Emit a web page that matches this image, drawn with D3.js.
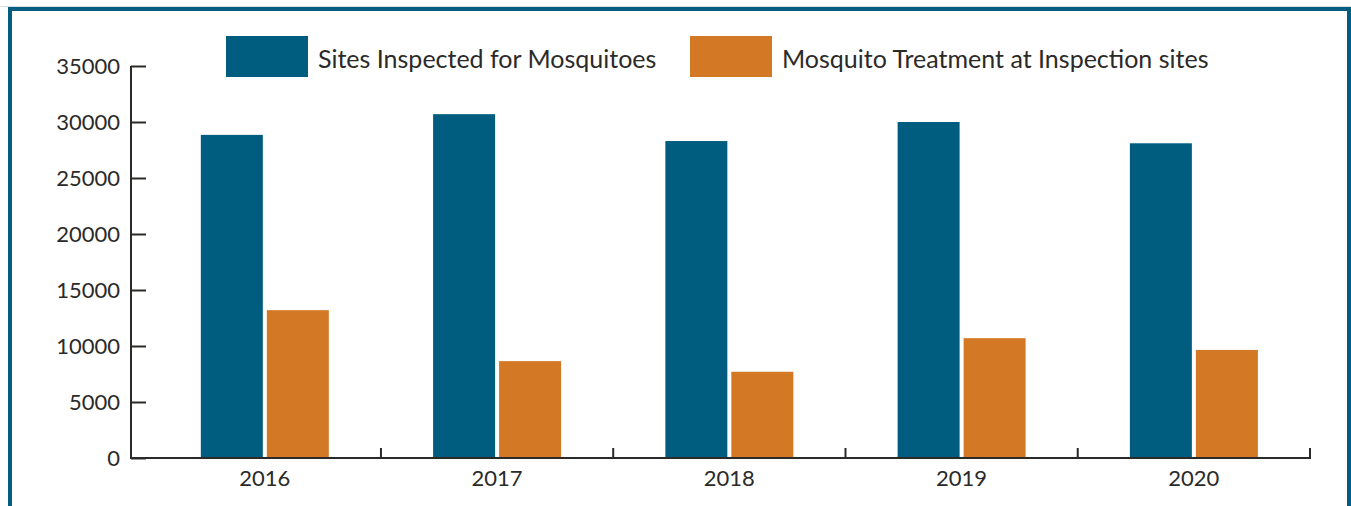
<!DOCTYPE html>
<html>
<head>
<meta charset="utf-8">
<script src="https://cdn.jsdelivr.net/npm/d3@7"></script>
<style>
  html, body { margin: 0; padding: 0; background: #fff; }
  svg { display: block; }
  text { font-family: "Lato", "Open Sans", sans-serif; fill: #2b2a29; }
</style>
</head>
<body>
<svg id="chart" width="1351" height="506"></svg>
<script>
// Yearly mosquito program counts
const years = ["2016", "2017", "2018", "2019", "2020"];
const seriesNames = ["Sites Inspected for Mosquitoes", "Mosquito Treatment at Inspection sites"];
const sitesInspected = [28850, 30700, 28300, 30000, 28100];
const treatments = [13200, 8650, 7700, 10700, 9650];
const yTicks = [0, 5000, 10000, 15000, 20000, 25000, 30000, 35000];
const seriesColors = ["#015d80", "#d37926"];

const svg = d3.select("#chart");
const W = 1351, H = 506;

// Outer frame: thin grey hairline above a thick blue border open at the bottom
svg.append("line").attr("x1", 0).attr("x2", W).attr("y1", 6.5).attr("y2", 6.5)
  .attr("stroke", "#d7dde0").attr("stroke-width", 1);
svg.append("path")
  .attr("d", `M10,${H} L10,9 L1349,9 L1349,${H}`)
  .attr("fill", "none").attr("stroke", "#035d80").attr("stroke-width", 4);

const axisLeft = 131, plotTop = 66, plotBottom = 458;
const bandLeft = 148.7, bandRight = 1310;

const y = d3.scaleLinear().domain([0, 35000]).range([plotBottom, plotTop]);
const x = d3.scaleBand().domain(years).range([bandLeft, bandRight]).paddingInner(0).paddingOuter(0);
const barW = 62, barGap = 4;

const data = years.map((yr, i) => ({ year: yr, values: [sitesInspected[i], treatments[i]] }));

// Bars
const groups = svg.append("g").selectAll("g").data(data).join("g")
  .attr("transform", d => `translate(${x(d.year) + x.bandwidth() / 2},0)`);
groups.selectAll("rect").data(d => d.values).join("rect")
  .attr("x", (v, j) => j === 0 ? -(barW + barGap / 2) : barGap / 2)
  .attr("width", barW)
  .attr("y", v => y(v))
  .attr("height", v => plotBottom - y(v))
  .attr("fill", (v, j) => seriesColors[j]);

// Y axis with ticks pointing into the plot
const yAxis = d3.axisRight(y).tickValues(yTicks).tickSize(15).tickFormat(d3.format("d"));
const gy = svg.append("g").attr("transform", `translate(${axisLeft},0)`).call(yAxis);
gy.select(".domain").remove();
gy.selectAll(".tick line").attr("stroke", "#2b2a29").attr("stroke-width", 2);
gy.selectAll(".tick text")
  .attr("x", -11).attr("dy", "0.34em")
  .attr("text-anchor", "end")
  .style("font-size", "22px").style("fill", "#2b2a29").style("font-family", "Lato, 'Open Sans', sans-serif");
svg.append("line").attr("x1", axisLeft).attr("x2", axisLeft)
  .attr("y1", plotTop).attr("y2", plotBottom + 1)
  .attr("stroke", "#2b2a29").attr("stroke-width", 2);

// X axis: baseline, separators between years, year labels
svg.append("line").attr("x1", axisLeft - 1).attr("x2", bandRight + 1)
  .attr("y1", plotBottom).attr("y2", plotBottom)
  .attr("stroke", "#2b2a29").attr("stroke-width", 2);
const sepPositions = years.map(yr => x(yr) + x.bandwidth());
svg.append("g").selectAll("line").data(sepPositions).join("line")
  .attr("x1", d => d).attr("x2", d => d)
  .attr("y1", plotBottom).attr("y2", plotBottom - 10)
  .attr("stroke", "#2b2a29").attr("stroke-width", 2);
svg.append("g").selectAll("text").data(years).join("text")
  .attr("x", d => x(d) + x.bandwidth() / 2)
  .attr("y", 486)
  .attr("text-anchor", "middle")
  .style("font-size", "22px")
  .text(d => d);

// Legend
const legendItems = [
  { name: seriesNames[0], color: seriesColors[0], x: 226 },
  { name: seriesNames[1], color: seriesColors[1], x: 690 }
];
const lg = svg.append("g").selectAll("g").data(legendItems).join("g")
  .attr("transform", d => `translate(${d.x},36)`);
lg.append("rect").attr("width", 82).attr("height", 41).attr("fill", d => d.color);
lg.append("text").attr("x", 92).attr("y", 32)
  .style("font-size", "25px")
  .text(d => d.name);
</script>
</body>
</html>
